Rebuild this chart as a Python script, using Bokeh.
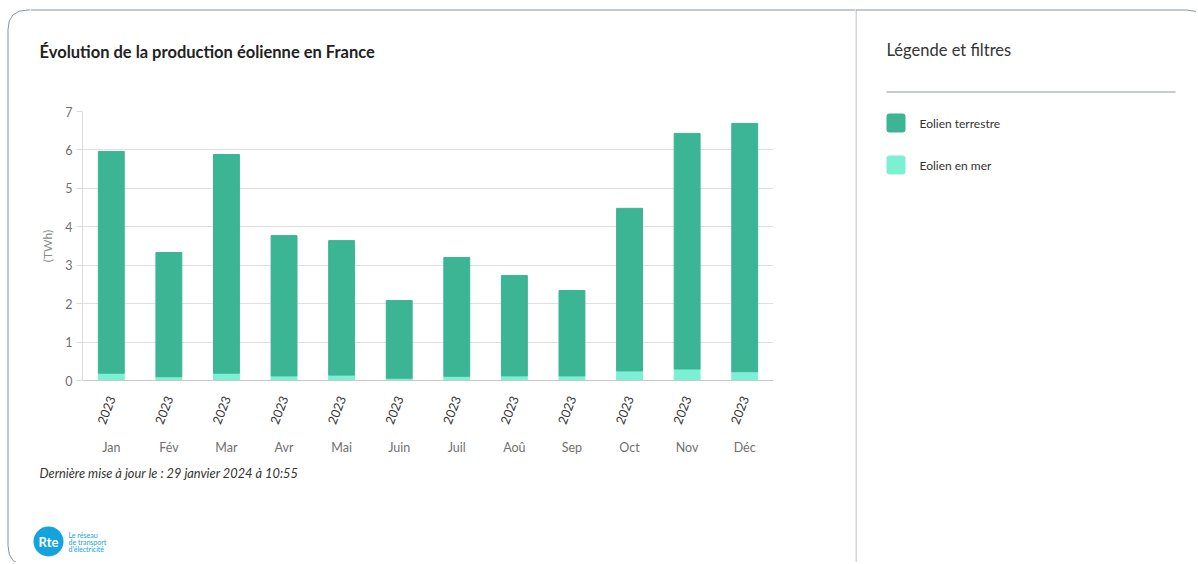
from bokeh.plotting import figure
from bokeh.models import ColumnDataSource, FactorRange, Range1d, SingleIntervalTicker
from bokeh.layouts import row, column
from bokeh.core.properties import value
from bokeh.embed import file_html
from bokeh.resources import INLINE

# ---- data ----
months = ["Jan", "Fév", "Mar", "Avr", "Mai", "Juin", "Juil", "Aoû", "Sep", "Oct", "Nov", "Déc"]
year = "2023"
eolien_terrestre = [5.77, 3.23, 5.69, 3.65, 3.50, 2.02, 3.09, 2.61, 2.22, 4.23, 6.13, 6.46]
eolien_en_mer = [0.19, 0.10, 0.19, 0.12, 0.14, 0.06, 0.11, 0.12, 0.12, 0.25, 0.30, 0.23]
series_names = ["Eolien terrestre", "Eolien en mer"]
title_text = "Évolution de la production éolienne en France"
legend_title = "Légende et filtres"
footer_text = "Dernière mise à jour le : 29 janvier 2024 à 10:55"
y_label = "(TWh)"
logo_lines = ["Le réseau", "de transport", "d'électricité"]

GREEN = "#3bb593"
MINT = "#7df0d3"
BORDER = "#8593a0"
FONT = "Lato"

TOTAL_W, TOTAL_H = 1196, 562
LEFT_W = 855
STRIP_W = 30


def deco(x0, x1, y0, y1):
    """Figure whose frame fills the canvas; data units = page pixels (y downwards)."""
    f = figure(width=x1 - x0, height=y1 - y0, x_range=Range1d(x0, x1), y_range=Range1d(y1, y0),
               min_border=0, x_axis_location=None, y_axis_location=None,
               output_backend="svg", toolbar_location=None)
    f.outline_line_color = None
    f.grid.visible = False
    f.background_fill_color = "white"
    f.border_fill_color = "white"
    return f


def txt(f, x, y, s, size, color="#333333", style="normal", align="left", baseline="middle"):
    f.text(x=[x], y=[y], text=[s], text_font=value(FONT), text_font_size=value(f"{size}px"),
           text_color=color, text_font_style=style, text_align=align, text_baseline=baseline)


# ---- left strip: card's left border with rounded corners ----
strip = deco(0, STRIP_W, 0, TOTAL_H)
strip.quadratic(x0=[7.5], y0=[29], x1=[27.5], y1=[9.5], cx=[7.5], cy=[9.5], line_color=BORDER, line_width=1)
strip.line(x=[27.5, STRIP_W], y=[9.5, 9.5], line_color=BORDER, line_width=1)
strip.line(x=[7.5, 7.5], y=[29, 545], line_color=BORDER, line_width=1)
strip.quadratic(x0=[7.5], y0=[545], x1=[27.5], y1=[565], cx=[7.5], cy=[565], line_color=BORDER, line_width=1)

# ---- header (title + top border) ----
head = deco(STRIP_W, LEFT_W, 0, 100)
head.line(x=[STRIP_W, LEFT_W], y=[9.5, 9.5], line_color=BORDER, line_width=1)
txt(head, 39, 51, title_text, 16.5, "#222222", style="bold")

# ---- chart ----
factors = [(m, year) for m in months]
src = ColumnDataSource(dict(x=factors, mer=eolien_en_mer, terrestre=eolien_terrestre))

p = figure(
    x_range=FactorRange(*factors, group_padding=0, range_padding=0),
    y_range=Range1d(0, 7),
    width=LEFT_W - STRIP_W, height=360,
    min_border_left=82 - STRIP_W, min_border_right=LEFT_W - 773, min_border_top=11, min_border_bottom=80,
    output_backend="svg", toolbar_location=None,
)
p.outline_line_color = None
p.background_fill_color = "white"
p.border_fill_color = "white"

p.vbar_stack(["mer", "terrestre"], x="x", width=0.45, source=src, color=[MINT, GREEN])

p.yaxis.ticker = SingleIntervalTicker(interval=1)
p.yaxis.axis_line_color = "#dcdcdc"
p.yaxis.major_tick_line_color = "#dcdcdc"
p.yaxis.major_tick_out = 6
p.yaxis.major_tick_in = 0
p.yaxis.minor_tick_line_color = None
p.yaxis.major_label_text_font = FONT
p.yaxis.major_label_text_font_size = "12.5px"
p.yaxis.major_label_text_color = "#6f6f6f"
p.yaxis.major_label_standoff = 4
p.yaxis.axis_label = y_label
p.yaxis.axis_label_text_font = FONT
p.yaxis.axis_label_text_font_size = "12px"
p.yaxis.axis_label_text_font_style = "normal"
p.yaxis.axis_label_text_color = "#8a8a8a"
p.yaxis.axis_label_standoff = 7
p.ygrid.grid_line_color = "#e0e0e0"
p.xgrid.grid_line_color = None

xa = p.xaxis[0]
xa.axis_line_color = "#c8c8c8"
xa.major_tick_line_color = None
xa.minor_tick_line_color = None
xa.major_label_orientation = 1.2
xa.major_label_text_font = FONT
xa.major_label_text_font_size = "12.5px"
xa.major_label_text_color = "#333333"
xa.major_label_standoff = 10
xa.group_label_orientation = "horizontal"
xa.group_text_font = FONT
xa.group_text_font_size = "12.5px"
xa.group_text_font_style = "normal"
xa.group_text_color = "#6f6f6f"
xa.separator_line_color = None

# ---- footer (update note, logo) ----
foot = deco(STRIP_W, LEFT_W, 460, TOTAL_H)
txt(foot, 39, 472, footer_text, 12.8, "#333333", style="italic")
foot.circle(x=[48], y=[541], radius=15, fill_color="#14a3dc", line_color=None)
txt(foot, 48, 541.5, "Rte", 13, "white", style="bold", align="center")
for i, s in enumerate(logo_lines):
    txt(foot, 68, 534 + 7 * i, s, 7, "#14a3dc")

# ---- right panel (legend) ----
right = deco(LEFT_W, TOTAL_W, 0, TOTAL_H)
right.line(x=[LEFT_W + 0.5, LEFT_W + 0.5], y=[9, TOTAL_H], line_color="#c3c7cc", line_width=1.5)
right.line(x=[LEFT_W, 1186], y=[9.5, 9.5], line_color=BORDER, line_width=1)
right.quadratic(x0=[1186], y0=[9.5], x1=[1206], y1=[29.5], cx=[1206], cy=[9.5], line_color=BORDER, line_width=1)
txt(right, 886, 49, legend_title, 16.5, "#333333")
right.line(x=[886, 1175], y=[91.5, 91.5], line_color="#8d99a6", line_width=1)
right.quad(left=[886, 886], right=[905, 905], top=[113, 155], bottom=[132, 174],
           fill_color=[GREEN, MINT], line_color=None, border_radius=3)
txt(right, 919, 123, series_names[0], 12, "#333333")
txt(right, 919, 165, series_names[1], 12, "#333333")

layout = row(strip, column(head, row(p), foot), right)
open("out.html", "w").write(file_html(layout, INLINE))
